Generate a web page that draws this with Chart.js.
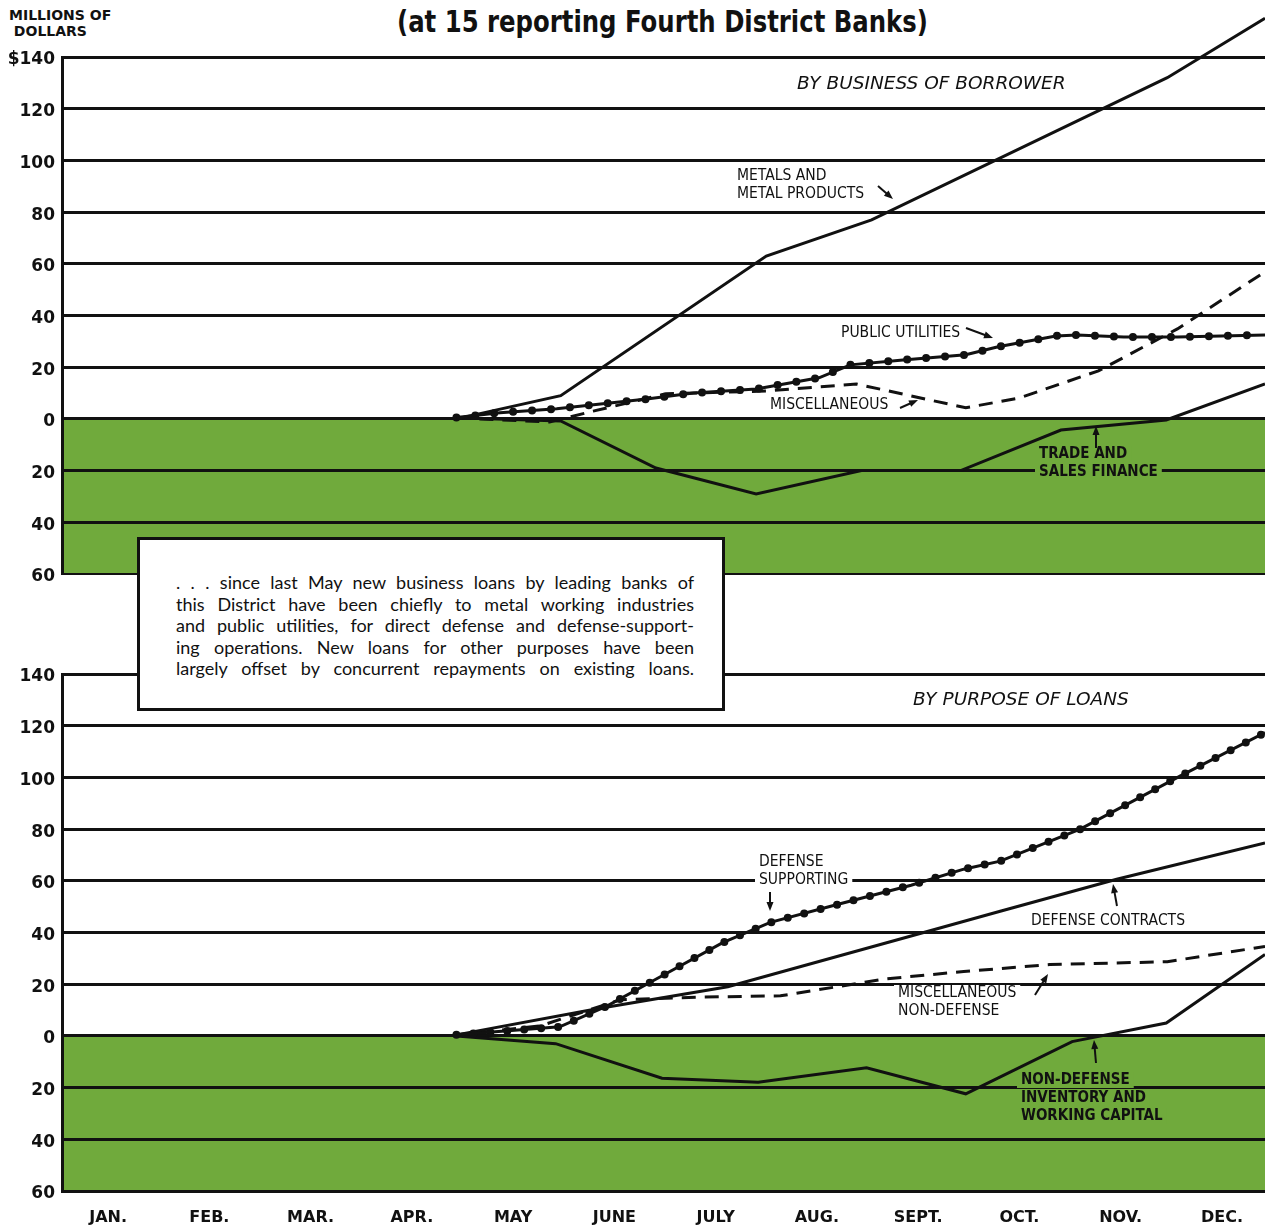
<!DOCTYPE html>
<html lang="en">
<head>
<meta charset="UTF-8">
<title>New business loans - Fourth District</title>
<script src="https://cdn.jsdelivr.net/npm/chart.js"></script>
<style>
    body { margin: 0; width: 1265px; height: 1225px; position: relative; overflow: hidden; background: #fff; color: #111; }
    canvas { position: absolute; left: 0; }
    #title { position: absolute; left: 397px; top: 3px; font: bold 31px "DejaVu Sans Condensed", "DejaVu Sans", sans-serif; white-space: nowrap; transform-origin: left top; }
    #unit { position: absolute; left: 9px; top: 7px; font: bold 14px "DejaVu Sans", sans-serif; line-height: 16px; }
    #note { position: absolute; left: 137px; top: 537px; width: 582px; height: 168px; border: 3px solid #111; background: #fff; z-index: 5; }
    #note .txt { position: absolute; left: 36px; top: 32px; width: 518px; font: 18px Lato, "Noto Sans", sans-serif; line-height: 21.6px; }
    #note .txt div { text-align: justify; text-align-last: justify; }
</style>
</head>
<body>
<div id="title">(at 15 reporting Fourth District Banks)</div>
<div id="unit">MILLIONS OF<br>&nbsp;DOLLARS</div>
<canvas id="topChart" width="1265" height="600" style="top:0"></canvas>
<canvas id="bottomChart" width="1265" height="625" style="top:600px"></canvas>
<div id="note"><div class="txt">
    <div>. . . since last May new business loans by leading banks of</div>
    <div>this District have been chiefly to metal working industries</div>
    <div>and public utilities, for direct defense and defense-support-</div>
    <div>ing operations. New loans for other purposes have been</div>
    <div>largely offset by concurrent repayments on existing loans.</div>
</div></div>

<script>
// month axis: value i+0.5 is the middle of month i
const months = ['JAN.', 'FEB.', 'MAR.', 'APR.', 'MAY', 'JUNE', 'JULY', 'AUG.', 'SEPT.', 'OCT.', 'NOV.', 'DEC.'];
const xMin = 0.045, xMax = 11.925;
const yMin = -60, yMax = 140, yStep = 20;

// BY BUSINESS OF BORROWER (millions of dollars, change since May)
const metalsX = [3.94, 4.97, 7.00, 8.04, 10.96, 11.925];
const metalsY = [0, 9, 63, 77, 132, 155];
const utilitiesX = [3.94, 4.37, 4.93, 5.82, 6.28, 6.90, 7.52, 7.83, 8.35, 8.97, 9.29, 9.86, 10.07, 10.53, 11.06, 11.925];
const utilitiesY = [0.5, 2.4, 3.9, 7.7, 10, 11.6, 15.9, 20.9, 22.8, 24.8, 27.9, 32.1, 32.5, 31.7, 31.7, 32.5];
const miscX = [3.94, 4.86, 5.29, 6.01, 7.00, 7.89, 8.97, 9.50, 10.28, 11.06, 11.925];
const miscY = [0.4, -1.2, 3, 9.7, 10.8, 13.5, 4.3, 8.1, 18.6, 34.8, 56.9];
const tradeX = [3.94, 4.97, 5.91, 6.90, 7.94, 8.92, 9.91, 10.95, 11.925];
const tradeY = [0.4, -0.8, -19, -29, -20, -20, -4.3, -0.4, 13.5];

// BY PURPOSE OF LOANS
const supportingX = [3.94, 4.96, 5.43, 5.90, 6.57, 7.04, 7.71, 8.43, 8.95, 9.31, 10.10, 11.09, 11.925];
const supportingY = [0.4, 3.5, 11.6, 21.7, 36.1, 43.9, 50.9, 58.3, 64.5, 67.6, 80, 100.6, 117.3];
const contractsX = [3.94, 5.33, 6.62, 8.59, 9.31, 10.46, 11.925];
const contractsY = [0.4, 10.5, 19, 40.4, 48.2, 60.6, 74.6];
const miscNonDefX = [3.94, 4.77, 5.56, 6.35, 7.14, 8.17, 8.95, 9.80, 10.96, 11.925];
const miscNonDefY = [0.4, 3.9, 14, 15, 15.5, 22, 24.9, 27.6, 28.7, 34.6];
const inventoryX = [3.94, 4.92, 5.97, 6.92, 7.99, 8.97, 10.02, 10.95, 11.925];
const inventoryY = [0, -3, -16.4, -17.9, -12.3, -22.4, -2.2, 5, 31.5];

const GREEN = '#70aa3c';
const INK = '#111';
const labelFont = '15.5px "DejaVu Sans Condensed", "DejaVu Sans", sans-serif';
const labelBold = 'bold 15px "DejaVu Sans Condensed", "DejaVu Sans", sans-serif';
const headFont = 'oblique 18.5px "DejaVu Sans", sans-serif';

const pts = (xs, ys) => xs.map((x, i) => ({ x: x, y: ys[i] }));

const solid = (xs, ys) => ({ data: pts(xs, ys), borderColor: INK, borderWidth: 3 });
const dashed = (xs, ys) => ({ data: pts(xs, ys), borderColor: INK, borderWidth: 3, borderDash: [14, 9] });
// line with beads: a plain line plus the same path drawn as round dots
const beads = (xs, ys, gap) => [
    { data: pts(xs, ys), borderColor: INK, borderWidth: 3 },
    { data: pts(xs, ys), borderColor: INK, borderWidth: 8, borderDash: [0, gap], borderCapStyle: 'round' }
];

// green band below zero
const belowZero = {
    id: 'belowZero',
    beforeDraw(chart) {
        const { ctx, chartArea } = chart;
        const y0 = chart.scales.y.getPixelForValue(0);
        ctx.save();
        ctx.fillStyle = GREEN;
        ctx.fillRect(chartArea.left, y0, chartArea.right - chartArea.left, chartArea.bottom - y0);
        ctx.restore();
    }
};

// series names and arrows, page pixel positions
const notes = {
    id: 'notes',
    afterDatasetsDraw(chart, args, opts) {
        const ctx = chart.ctx;
        const off = opts.offset;
        ctx.save();
        ctx.textBaseline = 'middle';
        opts.labels.forEach(l => {
            ctx.font = l.font;
            l.text.forEach((t, i) => {
                const y = l.y + i * 18 - off;
                const w = ctx.measureText(t).width;
                if (l.bg) { ctx.fillStyle = l.bg; ctx.fillRect(l.x - 4, y - 8, w + 8, 16); }
                ctx.fillStyle = INK;
                ctx.fillText(t, l.x, y);
            });
        });
        ctx.strokeStyle = INK; ctx.fillStyle = INK; ctx.lineWidth = 2;
        opts.arrows.forEach(([x1, y1, x2, y2]) => {
            y1 -= off; y2 -= off;
            const a = Math.atan2(y2 - y1, x2 - x1);
            ctx.beginPath(); ctx.moveTo(x1, y1); ctx.lineTo(x2 - 5 * Math.cos(a), y2 - 5 * Math.sin(a)); ctx.stroke();
            ctx.beginPath();
            ctx.moveTo(x2, y2);
            ctx.lineTo(x2 - 9 * Math.cos(a) + 3.5 * Math.sin(a), y2 - 9 * Math.sin(a) - 3.5 * Math.cos(a));
            ctx.lineTo(x2 - 9 * Math.cos(a) - 3.5 * Math.sin(a), y2 - 9 * Math.sin(a) + 3.5 * Math.cos(a));
            ctx.closePath(); ctx.fill();
        });
        ctx.restore();
    }
};

function makeOptions(isTop, noteOpts, padTop, padBottom) {
    return {
        responsive: false,
        animation: false,
        clip: false,
        layout: { padding: { top: padTop, bottom: padBottom, left: 0, right: 0 } },
        elements: { line: { tension: 0 }, point: { radius: 0 } },
        plugins: { legend: { display: false }, tooltip: { enabled: false }, notes: noteOpts },
        scales: {
            x: {
                type: 'linear', min: xMin, max: xMax,
                display: !isTop,
                grid: { display: false },
                border: { display: false },
                afterBuildTicks: s => { s.ticks = months.map((m, i) => ({ value: i + 0.5 })); },
                afterFit: s => { s.height = isTop ? 0 : 34; },
                ticks: {
                    autoSkip: false, maxRotation: 0, padding: 9, color: INK,
                    font: { family: '"DejaVu Sans", sans-serif', weight: 'bold', size: 16 },
                    callback: (v, i) => months[i]
                }
            },
            y: {
                min: yMin, max: yMax,
                afterFit: s => { s.width = 62; },
                grid: {
                    color: INK, drawTicks: false,
                    lineWidth: c => (isTop && c.tick && c.tick.value === yMin) ? 2 : 3
                },
                border: { display: true, color: INK, width: 3 },
                ticks: {
                    stepSize: yStep, padding: 7, color: INK, labelOffset: 3,
                    font: { family: '"DejaVu Sans", sans-serif', weight: 'bold', size: 17 },
                    callback: v => (isTop && v === yMax) ? '$' + v : Math.abs(v)
                }
            }
        }
    };
}

new Chart(document.getElementById('topChart'), {
    type: 'line',
    data: {
        datasets: [
            solid(metalsX, metalsY),
            ...beads(utilitiesX, utilitiesY, 19),
            dashed(miscX, miscY),
            solid(tradeX, tradeY)
        ]
    },
    options: makeOptions(true, {
        offset: 0,
        labels: [
            { text: ['BY BUSINESS OF BORROWER'], x: 797, y: 84, font: headFont },
            { text: ['METALS AND', 'METAL PRODUCTS'], x: 737, y: 176, font: labelFont },
            { text: ['PUBLIC UTILITIES'], x: 841, y: 333, font: labelFont },
            { text: ['MISCELLANEOUS'], x: 770, y: 405, font: labelFont },
            { text: ['TRADE AND', 'SALES FINANCE'], x: 1039, y: 454, font: labelBold, bg: GREEN }
        ],
        arrows: [[878, 186, 893, 199], [966, 328, 993, 338], [900, 408, 918, 400], [1096, 448, 1096, 426]]
    }, 57, 26),
    plugins: [belowZero, notes]
});

new Chart(document.getElementById('bottomChart'), {
    type: 'line',
    data: {
        datasets: [
            ...beads(supportingX, supportingY, 17),
            solid(contractsX, contractsY),
            dashed(miscNonDefX, miscNonDefY),
            solid(inventoryX, inventoryY)
        ]
    },
    options: makeOptions(false, {
        offset: 600,
        labels: [
            { text: ['BY PURPOSE OF LOANS'], x: 913, y: 700, font: headFont },
            { text: ['DEFENSE', 'SUPPORTING'], x: 759, y: 862, font: labelFont, bg: '#fff' },
            { text: ['DEFENSE CONTRACTS'], x: 1031, y: 921, font: labelFont, bg: '#fff' },
            { text: ['MISCELLANEOUS', 'NON-DEFENSE'], x: 898, y: 993, font: labelFont, bg: '#fff' },
            { text: ['NON-DEFENSE', 'INVENTORY AND', 'WORKING CAPITAL'], x: 1021, y: 1080, font: labelBold, bg: GREEN }
        ],
        arrows: [[770, 892, 770, 911], [1117, 906, 1113, 884], [1035, 995, 1048, 974], [1096, 1063, 1094, 1040]]
    }, 74, 0),
    plugins: [belowZero, notes]
});

// squeeze the title to the printed width
const title = document.getElementById('title');
title.style.transform = 'scaleX(' + (531 / title.offsetWidth) + ')';
</script>
</body>
</html>
